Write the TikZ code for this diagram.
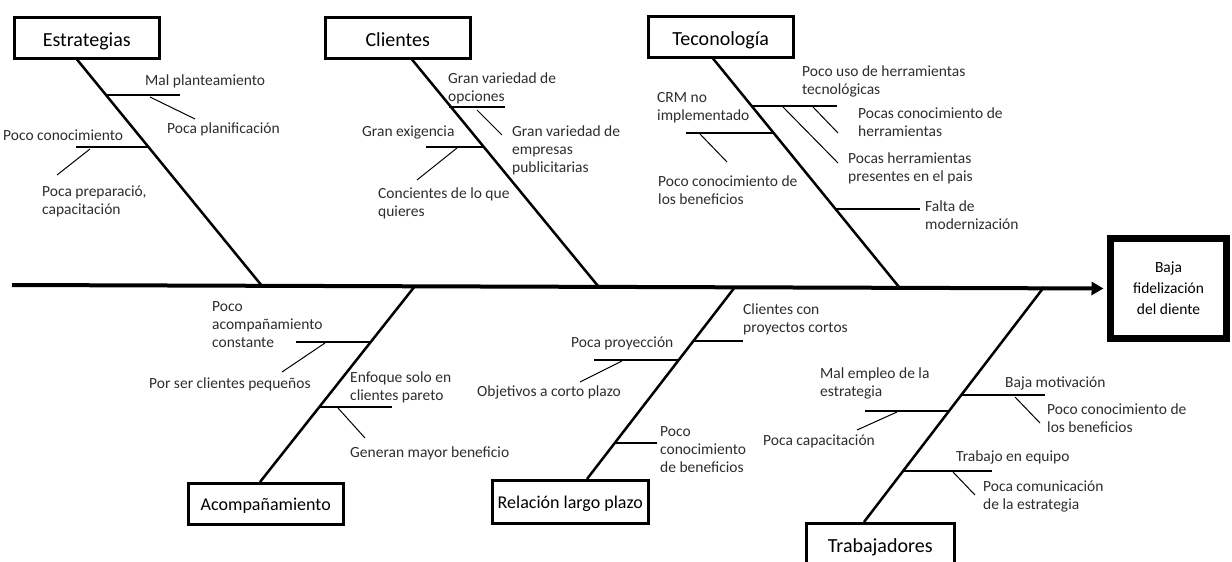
\documentclass[tikz,border=0pt]{standalone}
\usepackage{fontspec}
\setmainfont{Carlito}
\usetikzlibrary{arrows.meta, positioning}
\definecolor{labelgray}{RGB}{45,45,45}

\tikzset{
  cat/.style={draw, line width=2.5pt, anchor=north west, minimum width=145pt, minimum height=41pt, inner sep=0pt, text height=20pt, text depth=2pt, font=\fontsize{20}{24}\selectfont},
  catsmall/.style={cat, text height=16pt, text depth=3pt, font=\fontsize{18}{22}\selectfont},
  effect/.style={draw, line width=7pt, minimum width=116pt, minimum height=100pt, align=center, inner sep=0pt, font=\fontsize{15.5}{21}\selectfont},
  lbl/.style={anchor=west, inner sep=0pt, align=left, text=labelgray, font=\fontsize{15.5}{18}\selectfont},
  spine/.style={line width=4pt, -{Triangle[length=12pt,width=13pt]}, shorten >=3.5pt},
  bone/.style={line width=2.5pt},
  rib/.style={line width=1.4pt},
  twig/.style={line width=1pt},
}

\begin{document}
\begin{tikzpicture}[x=1pt, y=-1pt]
  \useasboundingbox (0,0) rectangle (1232,562);
  \clip (0,0) rectangle (1232,562);

  % effect and categories
  \node[effect] (effect) at (1168.5,288.5) {Baja\\fidelización\\del diente};

  \node[cat] (estr) at (13,16) {Estrategias};
  \node[cat] (cli) at (324,16) {Clientes};
  \node[cat] (tec) at (647,15) {Teconología};
  \node[catsmall, minimum width=155pt] (acomp) at (187,482) {Acompañamiento};
  \node[catsmall, minimum width=156pt, minimum height=43pt] (rel) at (491,479) {Relación largo plazo};
  \node[cat, minimum width=148pt] (trab) at (805,522) {Trabajadores};

  % spine
  \coordinate (tail) at (12,285);
  \draw[spine] (tail) -- (effect.west);

  \coordinate (estrJ) at (262,286);
  \coordinate (cliJ) at (598,286);
  \coordinate (tecJ) at (899,287);
  \coordinate (acompJ) at (415,286);
  \coordinate (relJ) at (735,287);
  \coordinate (trabJ) at (1044,287);

  \draw[bone] (estr.south west) ++(64,0) -- (estrJ);
  \draw[bone] (cli.south west) ++(88,0) -- (cliJ);
  \draw[bone] (tec.south west) ++(66,0) -- (tecJ);
  \draw[bone] (acomp.north west) ++(73,0) -- (acompJ);
  \draw[bone] (rel.north west) ++(96,0) -- (relJ);
  \draw[bone] (trab.north west) ++(59,0) -- (trabJ);

  % Estrategias
  \draw[rib] (107,95) -- (180,95);
  \draw[twig] (150,97) -- (195,119);
  \draw[rib] (76,147) -- (149,147);
  \draw[twig] (90,149) -- (57,175);
  \node[lbl] (e1) at (145,81) {Mal planteamiento};
  \node[lbl] (e2) at (167,129) {Poca planificación};
  \node[lbl] (e3) at (3,135) {Poco conocimiento};
  \node[lbl] (e4) at (42,201) {Poca preparació,\\capacitación};

  % Clientes
  \draw[rib] (449,107) -- (505,107);
  \draw[twig] (477,110) -- (502,135);
  \draw[rib] (426,147) -- (485,147);
  \draw[twig] (457,148) -- (417,180);
  \node[lbl] (c1) at (448,88) {Gran variedad de\\opciones};
  \node[lbl] (c2) at (512,150) {Gran variedad de\\empresas\\publicitarias};
  \node[lbl] (c3) at (362,132) {Gran exigencia};
  \node[lbl] (c4) at (378,203) {Concientes de lo que\\quieres};

  % Tecnologia
  \draw[rib] (752,106) -- (837,106);
  \draw[twig] (783,107) -- (838,163);
  \draw[twig] (813,107) -- (838,133);
  \draw[rib] (686,133) -- (774,133);
  \draw[twig] (700,134) -- (727,162);
  \draw[rib] (836,209) -- (920,209);
  \node[lbl] (t1) at (802,81) {Poco uso de herramientas\\tecnológicas};
  \node[lbl] (t2) at (858,122) {Pocas conocimiento de\\herramientas};
  \node[lbl] (t3) at (848,168) {Pocas herramientas\\presentes en el pais};
  \node[lbl] (t4) at (657,108) {CRM no\\implementado};
  \node[lbl] (t5) at (658,190) {Poco conocimiento de\\los beneficios};
  \node[lbl] (t6) at (925,215) {Falta de\\modernización};

  % Acompanamiento
  \draw[rib] (296,342) -- (370,342);
  \draw[twig] (325,343) -- (282,372);
  \draw[rib] (319,407) -- (392,407);
  \draw[twig] (338,408) -- (365,438);
  \node[lbl] (a1) at (212,325) {Poco\\acompañamiento\\constante};
  \node[lbl] (a2) at (149,384) {Por ser clientes pequeños};
  \node[lbl] (a3) at (350,387) {Enfoque solo en\\clientes pareto};
  \node[lbl] (a4) at (350,453) {Generan mayor beneficio};

  % Relacion largo plazo
  \draw[rib] (693,341) -- (743,341);
  \draw[rib] (594,360) -- (678,360);
  \draw[twig] (622,361) -- (580,382);
  \draw[rib] (614,443) -- (657,443);
  \node[lbl] (r1) at (743,319) {Clientes con\\proyectos cortos};
  \node[lbl] (r2) at (571,343) {Poca proyección};
  \node[lbl] (r3) at (477,392) {Objetivos a corto plazo};
  \node[lbl] (r4) at (660,450) {Poco\\conocimiento\\de beneficios};

  % Trabajadores
  \draw[rib] (961,395) -- (1045,395);
  \draw[twig] (1015,397) -- (1040,423);
  \draw[rib] (865,411) -- (949,411);
  \draw[twig] (897,412) -- (857,430);
  \draw[rib] (904,471) -- (992,471);
  \draw[twig] (953,472) -- (975,495);
  \node[lbl] (w1) at (820,383) {Mal empleo de la\\estrategia};
  \node[lbl] (w2) at (763,441) {Poca capacitación};
  \node[lbl] (w3) at (1005,383) {Baja motivación};
  \node[lbl] (w4) at (1047,418) {Poco conocimiento de\\los beneficios};
  \node[lbl] (w5) at (956,457) {Trabajo en equipo};
  \node[lbl] (w6) at (983,496) {Poca comunicación\\de la estrategia};
\end{tikzpicture}
\end{document}
